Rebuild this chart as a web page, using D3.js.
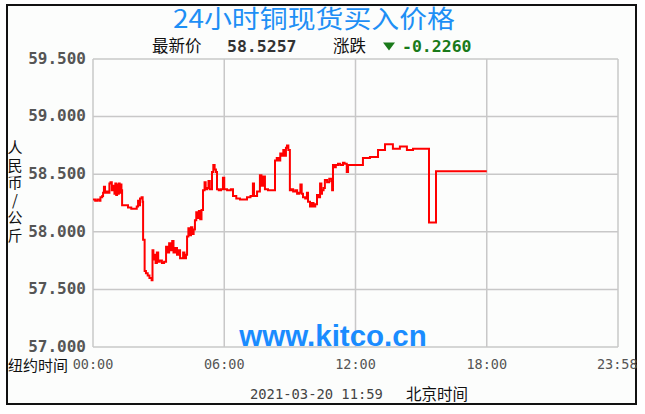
<!DOCTYPE html>
<html><head><meta charset="utf-8">
<script src="https://cdn.jsdelivr.net/npm/d3@7"></script>
<style>html,body{margin:0;padding:0;background:#fff;}svg{display:block;}</style>
</head><body>
<script>
// ---- data ----
const title = "24小时铜现货买入价格";
const latestLabel = "最新价";
const latestValue = "58.5257";
const changeLabel = "涨跌";
const changeValue = "-0.2260";
const yAxisTitle = "人民币/公斤";
const yTicks = [57.0, 57.5, 58.0, 58.5, 59.0, 59.5];
const xTickHours = [0, 6, 12, 18, 23.967];
const xTickLabels = ["00:00", "06:00", "12:00", "18:00", "23:58"];
const xAxisPrefix = "纽约时间";
const footerDate = "2021-03-20 11:59";
const footerZone = "北京时间";
const watermark = "www.kitco.cn";
const hours = [
0.00,0.10,0.20,0.30,0.34,0.42,0.46,0.50,0.55,0.62,0.70,0.75,0.80,0.86,0.92,0.98,1.02,1.06,1.10,1.14,1.18,1.22,1.26,1.30,
1.33,1.45,1.60,1.75,1.90,2.00,2.06,2.10,2.15,2.22,2.27,2.29,2.36,2.42,2.50,2.58,2.68,2.72,2.76,2.82,2.86,2.92,2.98,3.05,
3.15,3.25,3.34,3.40,3.48,3.55,3.62,3.68,3.76,3.84,3.90,3.98,4.05,4.12,4.18,4.25,4.30,4.36,4.42,4.48,4.54,4.60,4.66,4.72,
4.78,4.84,4.90,4.96,5.03,5.10,5.15,5.22,5.28,5.34,5.44,5.50,5.56,5.62,5.67,5.75,5.85,5.94,6.00,6.13,6.30,6.40,6.55,6.72,
6.90,7.04,7.20,7.31,7.36,7.50,7.63,7.70,7.78,7.86,8.00,8.15,8.32,8.40,8.48,8.56,8.64,8.70,8.76,8.82,8.87,8.93,9.00,9.08,
9.15,9.25,9.33,9.42,9.48,9.54,9.60,9.70,9.78,9.83,9.92,10.00,10.08,10.16,10.24,10.32,10.38,10.44,10.47,10.54,10.60,10.70,
10.80,10.90,10.93,10.97,11.05,11.10,11.20,11.30,11.43,11.50,11.60,11.66,12.34,12.66,13.03,13.35,13.71,14.03,14.35,14.63,
15.36,15.68,18.00];
const prices = [
58.28,58.27,58.28,58.27,58.30,58.31,58.34,58.39,58.34,58.35,58.34,58.42,58.43,58.36,58.40,58.33,58.42,58.32,58.41,58.33,58.42,58.34,58.41,58.36,
58.23,58.23,58.21,58.20,58.20,58.22,58.27,58.23,58.29,58.30,58.26,57.93,57.66,57.64,57.62,57.60,57.58,57.84,57.76,57.80,57.73,57.82,57.74,57.75,
57.73,57.74,57.87,57.82,57.90,57.84,57.92,57.82,57.86,57.80,57.84,57.77,57.77,57.82,57.77,57.80,57.96,58.03,57.97,58.04,57.98,58.02,58.10,58.17,
58.12,58.18,58.11,58.19,58.36,58.43,58.37,58.38,58.44,58.37,58.52,58.58,58.54,58.52,58.37,58.36,58.37,58.47,58.37,58.36,58.37,58.31,58.29,58.28,
58.28,58.30,58.31,58.42,58.31,58.35,58.49,58.40,58.48,58.37,58.36,58.36,58.62,58.64,58.62,58.68,58.66,58.71,58.66,58.73,58.75,58.71,58.36,58.37,
58.35,58.36,58.33,58.34,58.41,58.33,58.30,58.29,58.34,58.26,58.22,58.25,58.22,58.24,58.32,58.30,58.42,58.33,58.36,58.38,58.45,58.43,
58.46,58.44,58.36,58.58,58.56,58.58,58.59,58.58,58.60,58.59,58.52,58.58,58.64,58.65,58.71,58.76,58.72,58.74,58.71,58.72,
58.08,58.5257,58.5257];

// ---- layout ----
const W = 645, H = 414;
const plot = {left: 93, right: 618, top: 59, bottom: 347};
const svg = d3.select("body").append("svg").attr("width", W).attr("height", H);

svg.append("rect").attr("x", 7).attr("y", 5).attr("width", 629).attr("height", 399)
  .attr("fill", "#fcfdfc").attr("stroke", "#111").attr("stroke-width", 2);

const x = d3.scaleLinear().domain([0, 24]).range([plot.left, plot.right]);
const y = d3.scaleLinear().domain([57, 59.5]).range([plot.bottom, plot.top]);

const grid = svg.append("g");
grid.selectAll("line.h").data(yTicks).join("line")
  .attr("x1", plot.left).attr("x2", plot.right)
  .attr("y1", d => y(d)).attr("y2", d => y(d))
  .attr("stroke", "#c8c8c8").attr("stroke-width", 1.5);
grid.selectAll("line.v").data([0, 6, 12, 18, 24]).join("line")
  .attr("y1", plot.top).attr("y2", plot.bottom)
  .attr("x1", d => x(d)).attr("x2", d => x(d))
  .attr("stroke", "#c8c8c8").attr("stroke-width", 1.5);

// y tick labels
svg.append("g").selectAll("text").data(yTicks).join("text")
  .attr("x", 86).attr("y", d => y(d)).attr("dy", "0.3em")
  .attr("text-anchor", "end")
  .attr("font-family", "DejaVu Sans Mono").attr("font-weight", "bold").attr("font-size", 16)
  .attr("fill", "#555").text(d => d3.format(".3f")(d));

// y axis title (vertical, upright)
svg.append("text").attr("x", 15).attr("y", 140)
  .attr("writing-mode", "vertical-rl")
  .style("text-orientation", "upright")
  .attr("letter-spacing", 2.5)
  .attr("font-family", "Noto Sans CJK SC").attr("font-size", 15).attr("fill", "#111")
  .text(yAxisTitle);

// x tick labels
svg.append("g").selectAll("text").data(xTickHours).join("text")
  .attr("x", d => x(d)).attr("y", 364).attr("dy", "0.36em")
  .attr("text-anchor", "middle")
  .attr("font-family", "DejaVu Sans Mono").attr("font-size", 13.5).attr("fill", "#555")
  .text((d, i) => xTickLabels[i]);
svg.append("text").attr("x", 8).attr("y", 366).attr("dy", "0.36em")
  .attr("font-family", "Noto Sans CJK SC").attr("font-size", 15).attr("fill", "#111")
  .text(xAxisPrefix);

// watermark
svg.append("text").attr("x", 333).attr("y", 346).attr("text-anchor", "middle")
  .attr("font-family", "Liberation Sans").attr("font-weight", "bold").attr("font-size", 29.5)
  .attr("fill", "#1a8cff").text(watermark);

// line
const pts = hours.map((h, i) => [h, prices[i]]);
svg.append("path").datum(pts)
  .attr("fill", "none").attr("stroke", "#ff0000").attr("stroke-width", 2)
  .attr("d", d3.line().x(d => x(d[0])).y(d => y(d[1])).curve(d3.curveStepAfter));

// title
svg.append("text").attr("x", 314).attr("y", 28).attr("text-anchor", "middle")
  .attr("font-family", "Noto Sans CJK SC").attr("font-size", 25)
  .attr("textLength", 282).attr("lengthAdjust", "spacingAndGlyphs")
  .attr("fill", "#1e8ff5").text(title);

// header line 2
const hy = 46.5;
svg.append("text").attr("x", 152).attr("y", hy).attr("dy", "0.36em")
  .attr("font-family", "Noto Sans CJK SC").attr("font-size", 16.5).attr("fill", "#111").text(latestLabel);
svg.append("text").attr("x", 227).attr("y", hy).attr("dy", "0.36em")
  .attr("font-family", "DejaVu Sans Mono").attr("font-weight", "bold").attr("font-size", 16.5).attr("fill", "#333").text(latestValue);
svg.append("text").attr("x", 333).attr("y", hy).attr("dy", "0.36em")
  .attr("font-family", "Noto Sans CJK SC").attr("font-size", 16.5).attr("fill", "#111").text(changeLabel);
svg.append("path").attr("d", `M383,${hy-4}L395,${hy-4}L389,${hy+4}Z`).attr("fill", "#1a7a1a");
svg.append("text").attr("x", 402).attr("y", hy).attr("dy", "0.36em")
  .attr("font-family", "DejaVu Sans Mono").attr("font-weight", "bold").attr("font-size", 16.5).attr("fill", "#1a7a1a").text(changeValue);

// footer
svg.append("text").attr("x", 250).attr("y", 394).attr("dy", "0.36em")
  .attr("font-family", "DejaVu Sans Mono").attr("font-size", 13.8).attr("fill", "#444").text(footerDate);
svg.append("text").attr("x", 406).attr("y", 394).attr("dy", "0.36em")
  .attr("font-family", "Noto Sans CJK SC").attr("font-size", 15.5).attr("fill", "#111").text(footerZone);
</script>
</body></html>
